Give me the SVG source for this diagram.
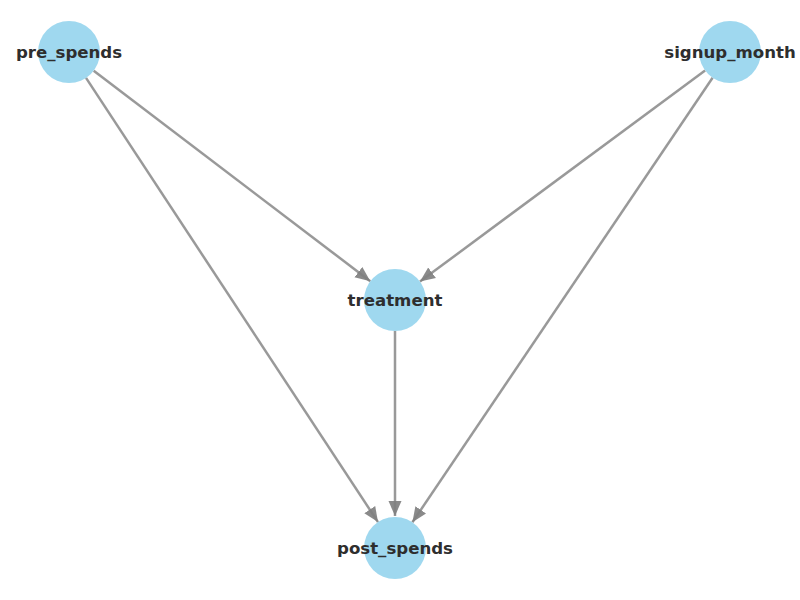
<svg xmlns="http://www.w3.org/2000/svg" width="800" height="600" viewBox="0 0 800 600">
  <style>
    .edge { stroke: #808080; stroke-opacity: 0.8; stroke-width: 2.5; fill: none; }
    .node circle { fill: #87ceeb; fill-opacity: 0.8; }
    .node text { font-family: "DejaVu Sans", sans-serif; font-weight: bold; font-size: 16.6px; fill: #2e2e2e; text-anchor: middle; dominant-baseline: central; }
  </style>
  <defs>
    <marker id="arrow" markerUnits="userSpaceOnUse" markerWidth="16" markerHeight="14" refX="15" refY="7" orient="auto">
      <path d="M0,0.5 L15,7 L0,13.5 Z" fill="#808080" fill-opacity="0.92"/>
    </marker>
  </defs>
  <rect width="800" height="600" fill="#ffffff"/>
  <g id="edges">
    <line class="edge" x1="93.7" y1="70.8" x2="370.3" y2="281.2" marker-end="url(#arrow)"/>
    <line class="edge" x1="705.1" y1="70.4" x2="420.0" y2="281.6" marker-end="url(#arrow)"/>
    <line class="edge" x1="86.0" y1="77.9" x2="378.0" y2="522.1" marker-end="url(#arrow)"/>
    <line class="edge" x1="712.6" y1="77.7" x2="412.4" y2="522.3" marker-end="url(#arrow)"/>
    <line class="edge" x1="395" y1="331" x2="395" y2="516" marker-end="url(#arrow)"/>
  </g>
  <g id="pre_spends" class="node">
    <circle cx="69" cy="52" r="31"/>
    <text x="69" y="52">pre_spends</text>
  </g>
  <g id="signup_month" class="node">
    <circle cx="730" cy="52" r="31"/>
    <text x="730" y="52">signup_month</text>
  </g>
  <g id="treatment" class="node">
    <circle cx="395" cy="300" r="31"/>
    <text x="395" y="300">treatment</text>
  </g>
  <g id="post_spends" class="node">
    <circle cx="395" cy="548" r="31"/>
    <text x="395" y="548">post_spends</text>
  </g>
</svg>
